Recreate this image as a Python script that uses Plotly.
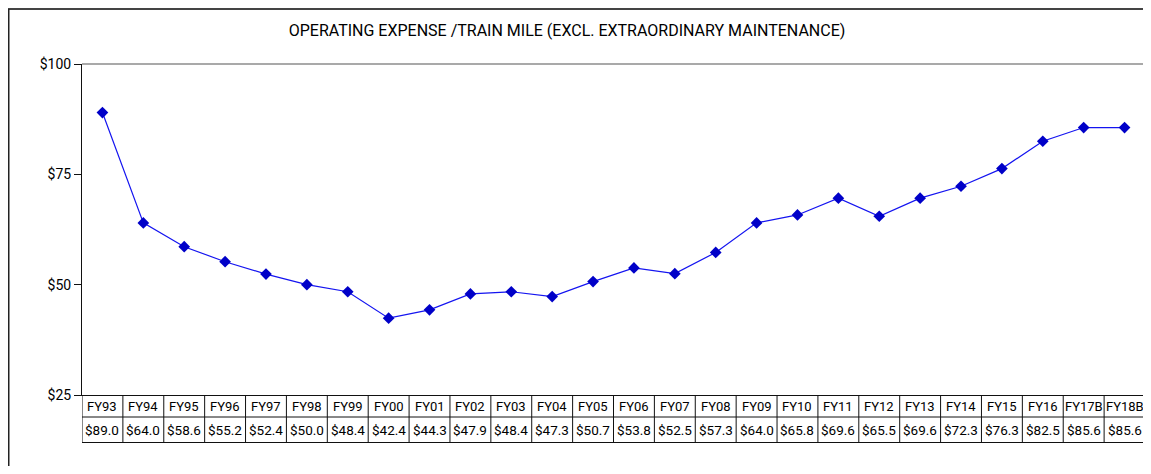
import plotly.graph_objects as go

categories = ["FY93", "FY94", "FY95", "FY96", "FY97", "FY98", "FY99", "FY00", "FY01",
              "FY02", "FY03", "FY04", "FY05", "FY06", "FY07", "FY08", "FY09", "FY10",
              "FY11", "FY12", "FY13", "FY14", "FY15", "FY16", "FY17B", "FY18B"]
values = [89.0, 64.0, 58.6, 55.2, 52.4, 50.0, 48.4, 42.4, 44.3, 47.9, 48.4, 47.3, 50.7,
          53.8, 52.5, 57.3, 64.0, 65.8, 69.6, 65.5, 69.6, 72.3, 76.3, 82.5, 85.6, 85.6]
y_ticks = [25, 50, 75, 100]
y_tick_labels = ["$25", "$50", "$75", "$100"]
title_text = "OPERATING EXPENSE /TRAIN MILE (EXCL. EXTRAORDINARY MAINTENANCE)"

FONT = "Roboto"
n = len(categories)
idx = list(range(n))

fig = go.Figure()
fig.add_trace(go.Scatter(
    x=idx, y=values, mode="lines+markers",
    line=dict(color="#1414F0", width=1.2),
    marker=dict(symbol="diamond", size=9, color="#0000C8"),
    showlegend=False, hoverinfo="x+y",
))

# page has an 8px body margin; work in reference pixel coordinates then shift
OFF = 8
WIN_W, WIN_H = 1151, 474
W, H = WIN_W - OFF, WIN_H - 2 * OFF
# reference plot box
L_REF, R_REF, T_REF, B_REF = 82, 1145, 64, 395
ml, mr, mt, mb = L_REF - OFF, (W + OFF) - R_REF, T_REF - OFF, (H + OFF) - B_REF
ph = B_REF - T_REF
pw = R_REF - L_REF

def py(pix):
    return (B_REF - pix) / ph

def px(pix):
    return (pix - L_REF) / pw

shapes = []
# plot area border (top + right) gray
shapes.append(dict(type="line", xref="paper", yref="paper", x0=0, x1=1, y0=1, y1=1,
                   line=dict(color="#8c8c8c", width=1.5)))
shapes.append(dict(type="line", xref="paper", yref="paper", x0=1, x1=1, y0=0, y1=1,
                   line=dict(color="#8c8c8c", width=1.5)))
# outer frame
shapes.append(dict(type="line", xref="paper", yref="paper", x0=px(OFF), x1=px(WIN_W),
                   y0=py(OFF + 1), y1=py(OFF + 1), line=dict(color="#444444", width=2)))
shapes.append(dict(type="line", xref="paper", yref="paper", x0=px(OFF + 0.75), x1=px(OFF + 0.75),
                   y0=py(OFF + 1), y1=py(WIN_H), line=dict(color="#222222", width=1.5)))

row1_bottom = py(417)
row2_bottom = py(442.5)
left_cell = -0.5 - 8.5 / (pw / n)
tbl_line = dict(color="#111111", width=1)
for i in range(n + 1):
    shapes.append(dict(type="line", xref="x", yref="paper", x0=i - 0.5, x1=i - 0.5,
                       y0=row2_bottom, y1=0, line=tbl_line))
shapes.append(dict(type="line", xref="x", yref="paper", x0=left_cell, x1=left_cell,
                   y0=row2_bottom, y1=row1_bottom, line=tbl_line))
shapes.append(dict(type="line", xref="x", yref="paper", x0=left_cell, x1=n - 0.5,
                   y0=row1_bottom, y1=row1_bottom, line=tbl_line))
shapes.append(dict(type="line", xref="x", yref="paper", x0=left_cell, x1=n - 0.5,
                   y0=row2_bottom, y1=row2_bottom, line=tbl_line))

annotations = []
for i, (c, v) in enumerate(zip(categories, values)):
    annotations.append(dict(x=i, y=py(406.5), xref="x", yref="paper", text=c, showarrow=False,
                            font=dict(family=FONT, size=13, color="#000000"),
                            xanchor="center", yanchor="middle"))
    annotations.append(dict(x=i, y=py(430), xref="x", yref="paper", text=f"${v:.1f}",
                            showarrow=False, font=dict(family=FONT, size=13.5, color="#000000"),
                            xanchor="center", yanchor="middle"))

fig.update_layout(
    width=W, height=H,
    margin=dict(l=ml, r=mr, t=mt, b=mb),
    paper_bgcolor="white", plot_bgcolor="white",
    title=dict(text=title_text, x=(567 - OFF) / W, xref="container", xanchor="center",
               y=1 - (30 - OFF) / H, yref="container", yanchor="middle",
               font=dict(family=FONT, size=16, color="#000000")),
    xaxis=dict(range=[-0.5, n - 0.5], showticklabels=False, ticks="", showgrid=False,
               zeroline=False, showline=True, linecolor="#111111", linewidth=1, fixedrange=True),
    yaxis=dict(range=[25, 100], tickvals=y_ticks, ticktext=y_tick_labels, ticks="outside",
               ticklen=7, tickcolor="#111111", showgrid=False, zeroline=False, showline=True,
               linecolor="#111111", linewidth=1,
               tickfont=dict(family=FONT, size=14, color="#000000"), fixedrange=True),
    shapes=shapes, annotations=annotations,
)

fig.write_html("out.html")
